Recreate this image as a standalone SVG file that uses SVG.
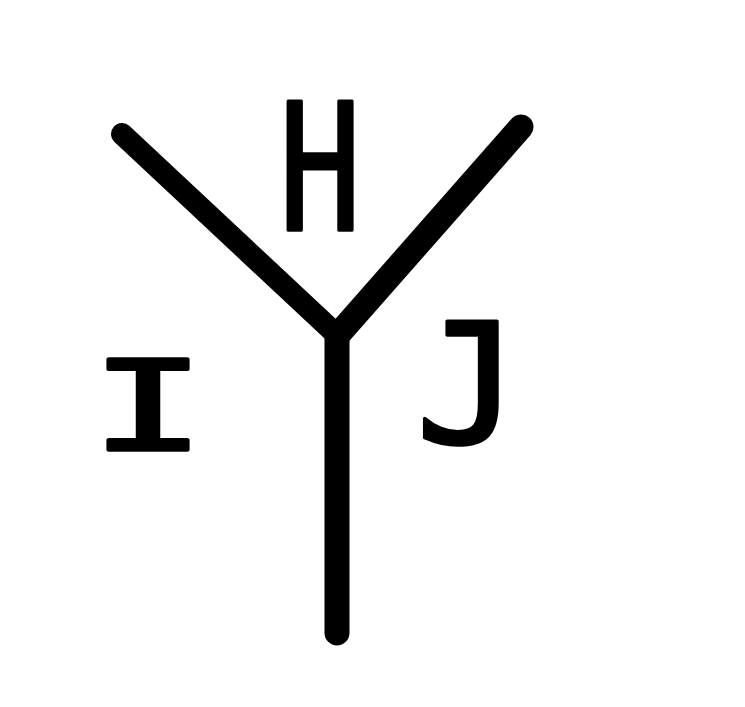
<svg xmlns="http://www.w3.org/2000/svg" width="745" height="707" viewBox="0 0 745 707">
<style>
.arm{stroke:#000;fill:none;stroke-linecap:round;stroke-linejoin:round}
.lbl{font-family:"DejaVu Sans Mono","Liberation Mono",monospace;fill:#000;stroke:#000;stroke-width:3.5;stroke-linejoin:round;text-anchor:middle}
</style>
<rect width="745" height="707" fill="#fff"/>
<g id="connectors">
<line class="arm" x1="122" y1="134" x2="338" y2="336" stroke-width="22"/>
<line class="arm" x1="521" y1="127" x2="337" y2="336" stroke-width="25"/>
<line class="arm" x1="337" y1="334" x2="337" y2="633" stroke-width="25"/>
</g>
<g id="label-H"><text class="lbl" font-size="176" transform="translate(320,230) scale(0.78,1)">H</text></g>
<g id="label-I"><text class="lbl" font-size="124" transform="translate(148,450) scale(1.55,1)">I</text></g>
<g id="label-J"><text class="lbl" font-size="166" transform="translate(468,443) scale(1.05,1)">J</text></g>
</svg>
